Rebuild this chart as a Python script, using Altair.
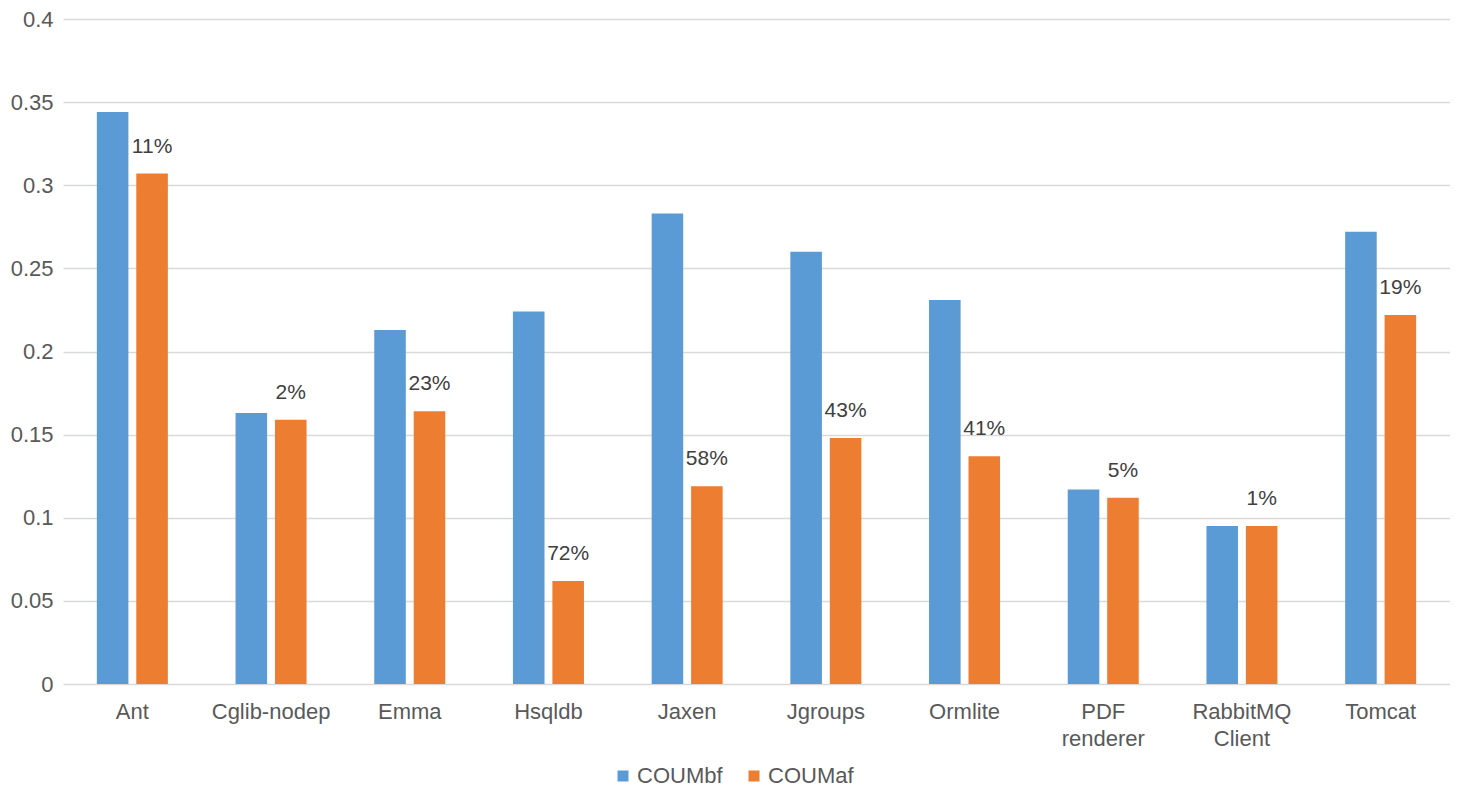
import altair as alt
import pandas as pd

categories = ["Ant", "Cglib-nodep", "Emma", "Hsqldb", "Jaxen", "Jgroups",
              "Ormlite", "PDF renderer", "RabbitMQ Client", "Tomcat"]
coum_bf = [0.344, 0.163, 0.213, 0.224, 0.283, 0.260, 0.231, 0.117, 0.095, 0.272]
coum_af = [0.307, 0.159, 0.164, 0.062, 0.119, 0.148, 0.137, 0.112, 0.095, 0.222]
reduction = ["11%", "2%", "23%", "72%", "58%", "43%", "41%", "5%", "1%", "19%"]
series = ["COUMbf", "COUMaf"]
y_ticks = [0, 0.05, 0.1, 0.15, 0.2, 0.25, 0.3, 0.35, 0.4]

rows = []
for c, b, a in zip(categories, coum_bf, coum_af):
    rows.append({"project": c, "series": "COUMbf", "value": b})
    rows.append({"project": c, "series": "COUMaf", "value": a})
df = pd.DataFrame(rows)
lab = pd.DataFrame({"project": categories, "series": "COUMaf",
                    "value": coum_af, "label": reduction})

FONT = "Liberation Sans"

x_enc = alt.X("project:N", sort=categories, title=None,
              scale=alt.Scale(paddingInner=0.488, paddingOuter=0.244),
              axis=alt.Axis(labelAngle=0, domain=False, ticks=False,
                            labelPadding=17, labelFontSize=22, labelFont=FONT,
                            labelColor="#595959", labelLineHeight=27,
                            labelExpr="indexof(datum.value, ' ') > 0 ? split(datum.value, ' ') : datum.value"))
xoff = alt.XOffset("series:N", sort=series,
                   scale=alt.Scale(domain=series, paddingInner=0.2, paddingOuter=0))
y_enc = alt.Y("value:Q", title=None,
              scale=alt.Scale(domain=[0, 0.4], nice=False, zero=True),
              axis=alt.Axis(values=y_ticks, format="~g", domain=False, ticks=False,
                            labelPadding=10, labelFontSize=22, labelFont=FONT,
                            labelColor="#595959", gridColor="#D9D9D9",
                            gridWidth=1.5))

bars = alt.Chart(df).mark_bar().encode(
    x=x_enc,
    xOffset=xoff,
    y=y_enc,
    color=alt.Color("series:N", sort=series,
                    scale=alt.Scale(domain=series, range=["#5B9BD5", "#ED7D31"]),
                    legend=alt.Legend(title=None, orient="none", direction="horizontal",
                                      legendX=549, legendY=746,
                                      symbolType="square", symbolSize=121,
                                      symbolStrokeWidth=0, labelFontSize=22,
                                      labelFont=FONT, labelColor="#595959",
                                      labelOffset=3, columnPadding=20)),
)

texts = alt.Chart(lab).mark_text(
    baseline="alphabetic", align="center", dy=-21,
    fontSize=21, font=FONT, color="#404040"
).encode(
    x=alt.X("project:N", sort=categories),
    xOffset=alt.XOffset("series:N", sort=series),
    y=alt.Y("value:Q"),
    text="label:N",
)

chart = alt.layer(bars, texts).properties(
    width=1387, height=665,
    autosize=alt.AutoSizeParams(type="none"),
    padding={"left": 55, "top": 11, "right": 0, "bottom": 105},
).configure_view(stroke=None)

chart.save("out.html", embed_options={"renderer": "svg", "actions": False})
